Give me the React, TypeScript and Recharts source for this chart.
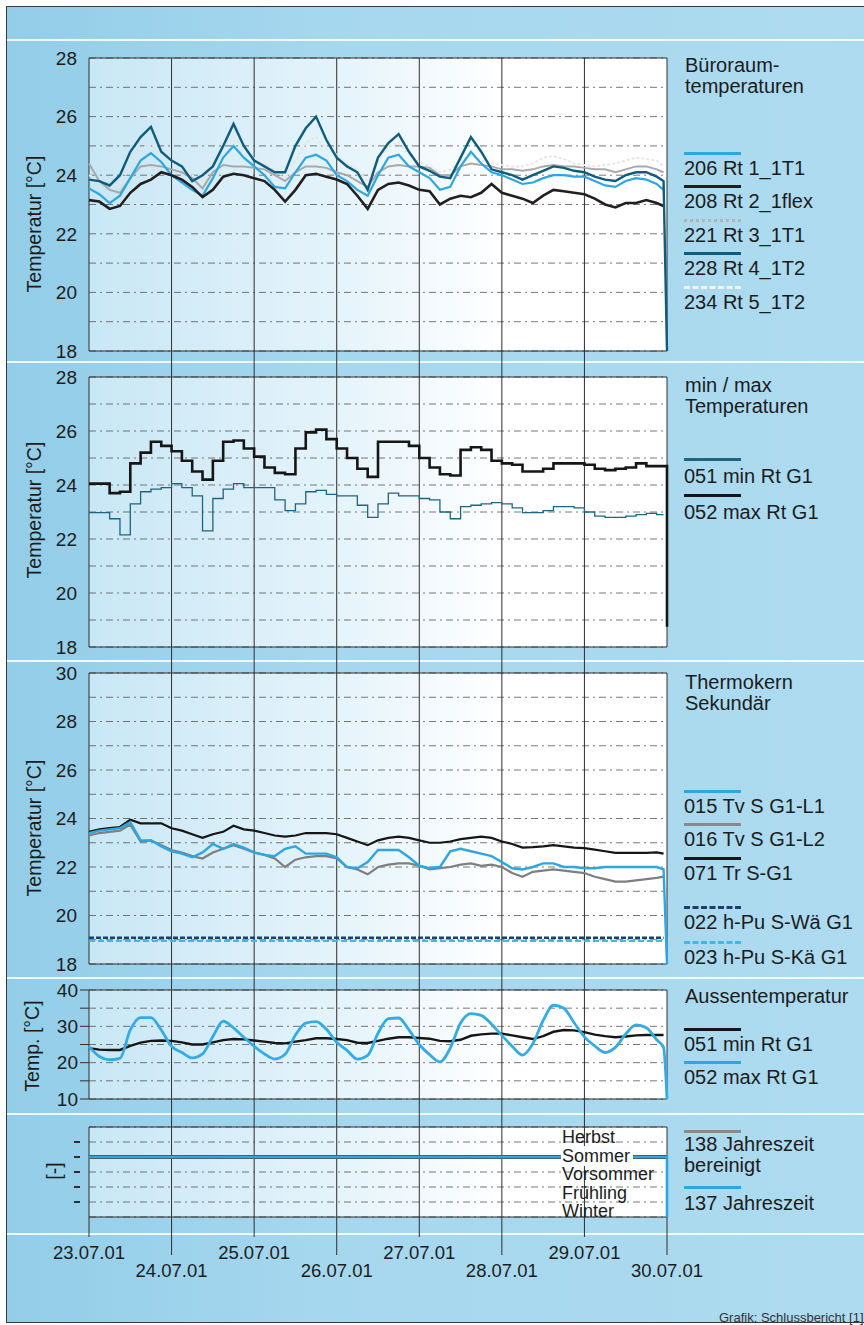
import React from 'react'
import { LineChart, Line, XAxis, YAxis, CartesianGrid, ReferenceLine } from 'recharts'

// time axis: hours since 23.07.01 00:00
const HOURS = [
  0, 3, 6, 9, 12, 15, 18, 21, 24, 27, 30, 33,
  36, 39, 42, 45, 48, 51, 54, 57, 60, 63, 66, 69,
  72, 75, 78, 81, 84, 87, 90, 93, 96, 99, 102, 105,
  108, 111, 114, 117, 120, 123, 126, 129, 132, 135, 138, 141,
  144, 147, 150, 153, 156, 159, 162, 165, 167, 168,
]
const DAY_TICKS = [0, 24, 48, 72, 96, 120, 144, 168]
const DAY_LABELS = ['23.07.01', '24.07.01', '25.07.01', '26.07.01', '27.07.01', '28.07.01', '29.07.01', '30.07.01']

// Büroraumtemperaturen
const RT1_206 = [
  23.55, 23.35, 23.05, 23.3, 23.9, 24.5, 24.75, 24.45, 24.0, 23.75, 23.5, 23.3,
  23.9, 24.6, 25.0, 24.6, 24.3, 24.0, 23.6, 23.55, 24.1, 24.6, 24.7, 24.5,
  24.0, 23.8, 23.5, 23.3, 24.0, 24.6, 24.7, 24.3, 24.1, 23.9, 23.5, 23.6,
  24.3, 24.8, 24.4, 24.1, 24.0, 23.85, 23.7, 23.75, 23.9, 24.0, 24.0, 23.95,
  23.95, 23.8, 23.65, 23.6, 23.8, 23.9, 23.85, 23.7, 23.5, null,
]
const RT2_208 = [
  23.15, 23.1, 22.85, 22.95, 23.4, 23.7, 23.85, 24.1, 24.0, 23.85, 23.6, 23.25,
  23.5, 23.95, 24.05, 24.0, 23.9, 23.8, 23.5, 23.1, 23.5, 24.0, 24.05, 23.95,
  23.85, 23.7, 23.3, 22.85, 23.5, 23.7, 23.75, 23.65, 23.5, 23.45, 23.0, 23.2,
  23.3, 23.25, 23.4, 23.7, 23.4, 23.3, 23.2, 23.05, 23.3, 23.5, 23.45, 23.4,
  23.35, 23.2, 23.0, 22.9, 23.05, 23.05, 23.15, 23.05, 22.95, null,
]
const RT3_221 = [
  24.4, 23.8, 23.5, 23.4, 23.9, 24.3, 24.35, 24.3, 24.2, 24.1, 23.9, 23.55,
  24.1, 24.35, 24.3, 24.3, 24.25, 24.2, 24.0, 23.8, 24.1, 24.3, 24.3, 24.25,
  24.1, 24.0, 23.8, 23.6, 24.1, 24.3, 24.35, 24.3, 24.3, 24.25, 24.0, 24.0,
  24.3, 24.4, 24.35, 24.3, 24.2, 24.2, 24.15, 24.2, 24.3, 24.35, 24.3, 24.3,
  24.25, 24.2, 24.2, 24.1, 24.2, 24.3, 24.3, 24.2, 24.1, null,
]
const RT4_228 = [
  23.85, 23.8, 23.65, 24.0, 24.8, 25.3, 25.65, 24.8, 24.5, 24.3, 23.8, 24.0,
  24.3, 25.0, 25.75, 25.0, 24.5, 24.3, 24.1, 24.1, 25.0, 25.6, 26.0, 25.2,
  24.6, 24.3, 24.1, 23.5, 24.6, 25.1, 25.4, 24.8, 24.3, 24.15, 23.95, 23.9,
  24.6, 25.3, 24.8, 24.2, 24.1, 24.0, 23.85, 24.0, 24.15, 24.3, 24.25, 24.15,
  24.1, 23.95, 23.85, 23.8, 24.0, 24.1, 24.1, 23.95, 23.8, 18,
]
const RT5_234 = [
  24.0, 23.9, 23.6, 23.7, 24.3, 24.9, 25.1, 24.7, 24.5, 24.3, 24.0, 23.7,
  24.4, 25.0, 25.3, 24.9, 24.6, 24.4, 24.2, 23.9, 24.5, 25.1, 25.3, 24.9,
  24.7, 24.4, 24.2, 23.8, 24.5, 25.0, 25.1, 24.7, 24.45, 24.3, 24.1, 24.2,
  24.5, 24.7, 24.5, 24.4, 24.35, 24.3, 24.3, 24.4, 24.6, 24.65, 24.55, 24.4,
  24.35, 24.3, 24.35, 24.4, 24.5, 24.6, 24.55, 24.5, 24.3, null,
]

// min / max Temperaturen
const MIN_051 = [
  22.98, 22.98, 22.75, 22.15, 23.3, 23.75, 23.85, 23.9, 24.05, 23.9, 23.6, 22.3,
  23.5, 23.85, 24.05, 23.9, 23.9, 23.9, 23.45, 23.05, 23.3, 23.75, 23.8, 23.65,
  23.6, 23.6, 23.25, 22.8, 23.3, 23.7, 23.6, 23.6, 23.5, 23.45, 23.0, 22.75,
  23.2, 23.25, 23.3, 23.35, 23.3, 23.15, 22.98, 22.98, 23.05, 23.2, 23.2, 23.15,
  23.0, 22.85, 22.8, 22.8, 22.85, 22.9, 22.95, 22.9, 22.9, null,
]
const MAX_052 = [
  24.05, 24.05, 23.7, 23.75, 24.8, 25.2, 25.6, 25.45, 25.25, 24.9, 24.5, 24.2,
  24.9, 25.6, 25.65, 25.35, 25.05, 24.65, 24.45, 24.4, 25.35, 25.95, 26.05, 25.7,
  25.35, 25.0, 24.6, 24.3, 25.6, 25.6, 25.6, 25.45, 25.0, 24.65, 24.4, 24.35,
  25.3, 25.4, 25.3, 24.9, 24.8, 24.75, 24.5, 24.5, 24.6, 24.8, 24.8, 24.8,
  24.75, 24.6, 24.55, 24.6, 24.65, 24.8, 24.7, 24.7, 24.7, 18.75,
]

// Thermokern Sekundär
const TV_015 = [
  23.4, 23.5, 23.55, 23.6, 23.85, 23.1, 23.1, 22.85, 22.65, 22.55, 22.4, 22.6,
  22.95, 22.75, 22.95, 22.8, 22.6, 22.5, 22.45, 22.75, 22.85, 22.55, 22.55, 22.55,
  22.4, 22.0, 21.95, 22.2, 22.7, 22.7, 22.7, 22.4, 22.05, 21.95, 22.0, 22.65,
  22.75, 22.65, 22.55, 22.45, 22.2, 21.95, 21.9, 22.0, 22.15, 22.15, 22.0, 22.0,
  21.95, 21.95, 22.0, 22.0, 22.0, 22.0, 22.0, 22.0, 21.9, 18,
]
const TV_016 = [
  23.3, 23.4, 23.45, 23.5, 23.75, 23.05, 23.1, 22.9, 22.7, 22.6, 22.45, 22.35,
  22.6, 22.75, 22.9, 22.75, 22.6, 22.5, 22.35, 22.0, 22.3, 22.4, 22.45, 22.45,
  22.35, 22.0, 21.9, 21.7, 22.0, 22.1, 22.15, 22.15, 22.05, 21.9, 21.95, 22.0,
  22.1, 22.15, 22.05, 22.1, 22.0, 21.75, 21.6, 21.8, 21.85, 21.9, 21.85, 21.8,
  21.75, 21.6, 21.5, 21.4, 21.4, 21.45, 21.5, 21.55, 21.6, null,
]
const TR_071 = [
  23.45, 23.55, 23.6, 23.65, 23.95, 23.8, 23.8, 23.8, 23.6, 23.5, 23.35, 23.2,
  23.35, 23.45, 23.7, 23.55, 23.5, 23.4, 23.3, 23.25, 23.3, 23.4, 23.4, 23.4,
  23.35, 23.2, 23.05, 22.9, 23.1, 23.2, 23.25, 23.2, 23.1, 23.0, 23.0, 23.05,
  23.15, 23.2, 23.25, 23.2, 23.05, 22.95, 22.8, 22.82, 22.85, 22.9, 22.85, 22.8,
  22.78, 22.72, 22.65, 22.58, 22.58, 22.58, 22.58, 22.6, 22.55, null,
]
const PUMP_HOURS = [0, 167]
const PU_022 = [19.08, 19.08]
const PU_023 = [18.95, 18.95]

// Aussentemperatur
const AUSSEN_051 = [
  24.0, 23.6, 23.5, 23.5, 24.6, 25.5, 26.0, 26.1, 26.0, 25.6, 25.0, 25.0,
  25.6, 26.2, 26.5, 26.4, 26.1, 25.8, 25.4, 25.3, 25.8, 26.2, 26.7, 26.7,
  26.5, 26.2, 25.5, 25.4, 26.0, 26.6, 27.0, 27.0, 26.8, 26.6, 26.0, 25.9,
  26.3, 27.4, 27.8, 28.0, 28.0, 27.5, 27.0, 26.5, 27.3, 28.5, 29.0, 28.9,
  28.4, 27.7, 27.3, 27.0, 27.2, 27.5, 27.6, 27.6, 27.6, null,
]
const AUSSEN_052 = [
  24.4, 21.7, 20.8, 21.2, 29.0, 32.4, 32.4, 29.0, 24.5, 22.8, 21.3, 22.4,
  27.2, 31.4, 29.6, 27.0, 24.5, 22.4, 21.0, 22.3, 27.6, 30.9, 31.3, 29.2,
  25.6, 23.4, 21.0, 22.0, 28.1, 32.1, 32.3, 29.0, 25.0, 22.2, 20.2, 24.0,
  30.9, 33.5, 33.0, 30.6, 27.5, 24.5, 22.1, 25.2, 31.6, 35.8, 35.0, 31.0,
  27.1, 24.6, 22.8, 24.2, 27.9, 30.4, 29.6, 26.3, 24.2, 10,
]

// Jahreszeit (1 = Winter ... 5 = Herbst)
const SEASONS = ['Winter', 'Frühling', 'Vorsommer', 'Sommer', 'Herbst']
const SEASON_LEVELS = [1, 2, 3, 4, 5]
const SEASON_HOURS = [0, 168, 168]
const JZ_137 = [4, 4, 0]
const JZ_138 = [4, 4, null]

const P1_TICKS = [18, 19, 20, 21, 22, 23, 24, 25, 26, 27, 28]
const P3_TICKS = [18, 19, 20, 21, 22, 23, 24, 25, 26, 27, 28, 29, 30]
const P4_TICKS = [10, 15, 20, 25, 30, 35, 40]

const rows = HOURS.map((h, i) => ({
  h,
  rt206: RT1_206[i], rt208: RT2_208[i], rt221: RT3_221[i], rt228: RT4_228[i], rt234: RT5_234[i],
  min051: MIN_051[i], max052: MAX_052[i],
  tv015: TV_015[i], tv016: TV_016[i], tr071: TR_071[i],
  a051: AUSSEN_051[i], a052: AUSSEN_052[i],
}))
const points = (hours: number[], vals: (number | null)[]) => hours.map((h, i) => ({ h, v: vals[i] }))

const FONT = '"Liberation Sans", Arial, Helvetica, sans-serif'
const W = 864
const H = 1325
const PLOT_L = 89
const PLOT_R = 667
const AXIS_W = 60
const INK = '#1c1c1c'
const RULE = '#2e2e2e'
const BLUE = '#2ea6df'

type Series = {
  key: string
  color: string
  width: number
  dash?: string
  curve?: 'linear' | 'stepAfter' | 'monotone'
  pts?: { h: number; v: number | null }[]
}

function DashTick(p: any) {
  return <line x1={p.x - 7} x2={p.x - 1} y1={p.y} y2={p.y} stroke={RULE} strokeWidth={2} />
}

function Panel({ id, top, bottom, domain, ticks, every, mode, series }: {
  id: string; top: number; bottom: number; domain: [number, number]; ticks: number[]
  every: number; mode: 'text' | 'line' | 'dash'; series: Series[]
}) {
  const pad = 16
  const tickFont = { fill: INK, fontSize: 19, fontFamily: FONT }
  const yProps: any =
    mode === 'text'
      ? { tickLine: false, tickSize: 0, tickMargin: 12, tick: tickFont }
      : mode === 'line'
      ? { tickLine: { stroke: RULE }, tickSize: 9, tickMargin: 2, tick: tickFont }
      : { tickLine: false, tick: (p: any) => <DashTick {...p} /> }
  return (
    <div style={{ position: 'absolute', left: 0, top: top - pad }}>
      <LineChart
        width={W}
        height={bottom - top + 2 * pad}
        data={rows}
        margin={{ top: pad, bottom: pad, left: PLOT_L - AXIS_W, right: W - PLOT_R }}
      >
        <defs>
          <linearGradient id={`bg-${id}`} x1="0" y1="0" x2="1" y2="0">
            <stop offset="0" stopColor="#c8e7f5" />
            <stop offset="0.45" stopColor="#e6f4fb" />
            <stop offset="0.72" stopColor="#ffffff" />
            <stop offset="1" stopColor="#ffffff" />
          </linearGradient>
        </defs>
        <CartesianGrid
          vertical={false}
          stroke="#555"
          strokeWidth={0.8}
          strokeDasharray="7 4 2 4"
          fill={`url(#bg-${id})`}
          fillOpacity={1}
        />
        <XAxis
          type="number"
          dataKey="h"
          domain={[0, 168]}
          ticks={DAY_TICKS}
          tick={false}
          axisLine={false}
          tickLine={false}
          height={0}
        />
        <YAxis
          type="number"
          domain={domain}
          ticks={ticks}
          interval={0}
          width={AXIS_W}
          axisLine={false}
          tickFormatter={(v: number) => (v % every === 0 ? String(v) : '')}
          {...yProps}
        />
        {DAY_TICKS.map((d) => (
          <ReferenceLine key={`d${d}`} x={d} stroke={RULE} strokeWidth={1} />
        ))}
        <ReferenceLine y={domain[0]} stroke={RULE} strokeWidth={1.2} />
        <ReferenceLine y={domain[1]} stroke={RULE} strokeWidth={1.2} />
        {series.map((s) => (
          <Line
            key={s.key}
            data={s.pts}
            dataKey={s.pts ? 'v' : s.key}
            type={s.curve ?? 'linear'}
            stroke={s.color}
            strokeWidth={s.width}
            strokeDasharray={s.dash}
            dot={false}
            activeDot={false}
            isAnimationActive={false}
          />
        ))}
      </LineChart>
    </div>
  )
}

function DateTick(p: any) {
  const i = DAY_TICKS.indexOf(p.payload.value)
  const low = i % 2 === 1
  return (
    <g>
      <line x1={p.x} x2={p.x} y1={1217} y2={1217 + (low ? 38 : 20)} stroke={RULE} strokeWidth={1} />
      <text
        x={p.x}
        y={1217 + (low ? 53 : 35)}
        textAnchor="middle"
        dominantBaseline="central"
        fontSize={18.5}
        fontFamily={FONT}
        fill={INK}
      >
        {DAY_LABELS[i]}
      </text>
    </g>
  )
}

function AxisTitle({ x, y, text }: { x: number; y: number; text: string }) {
  return (
    <div
      style={{
        position: 'absolute', left: x, top: y, transform: 'translate(-50%,-50%) rotate(-90deg)',
        fontSize: 19.5, lineHeight: 1, whiteSpace: 'nowrap', color: INK,
      }}
    >
      {text}
    </div>
  )
}

function Title({ top, lines }: { top: number; lines: string[] }) {
  return (
    <div style={{ position: 'absolute', left: 685, top, fontSize: 20, lineHeight: '21px', color: INK, whiteSpace: 'nowrap' }}>
      {lines.map((l) => <div key={l}>{l}</div>)}
    </div>
  )
}

function Key({ y, label, color, line = 'solid', gap = 3 }: { y: number; label: string; color: string; line?: string; gap?: number }) {
  return (
    <>
      <div style={{ position: 'absolute', left: 684, top: y - 1.5, width: 57, borderTop: `3px ${line} ${color}` }} />
      <div style={{ position: 'absolute', left: 684, top: y + gap, fontSize: 20, lineHeight: '24px', color: INK, whiteSpace: 'nowrap' }}>
        {label}
      </div>
    </>
  )
}

const P1_SERIES: Series[] = [
  { key: 'rt234', color: '#e6e6e6', width: 2, dash: '3 2' },
  { key: 'rt221', color: '#a9a9a9', width: 2 },
  { key: 'rt206', color: BLUE, width: 2.2 },
  { key: 'rt208', color: '#231f20', width: 2.6 },
  { key: 'rt228', color: '#0f5d7d', width: 2.4 },
]
const P2_SERIES: Series[] = [
  { key: 'min051', color: '#1d6580', width: 1.3, curve: 'stepAfter' },
  { key: 'max052', color: '#161616', width: 2.6, curve: 'stepAfter' },
]
const P3_SERIES: Series[] = [
  { key: 'pu022', color: '#1d3f6b', width: 2.6, dash: '5 2', pts: points(PUMP_HOURS, PU_022) },
  { key: 'pu023', color: '#45b5ea', width: 2.2, dash: '6 3', pts: points(PUMP_HOURS, PU_023) },
  { key: 'tv016', color: '#7f7f7f', width: 2.2 },
  { key: 'tr071', color: '#161616', width: 2.2 },
  { key: 'tv015', color: BLUE, width: 2.4 },
]
const P4_SERIES: Series[] = [
  { key: 'a051', color: '#161616', width: 2.4 },
  { key: 'a052', color: '#33ace3', width: 2.8, curve: 'monotone' },
]
const P5_SERIES: Series[] = [
  { key: 'jz138', color: '#4d4d4d', width: 4, pts: points(SEASON_HOURS, JZ_138) },
  { key: 'jz137', color: BLUE, width: 2.6, pts: points(SEASON_HOURS, JZ_137) },
]

const SEPARATORS = [39, 361, 660, 977, 1113, 1233]

export default function App() {
  return (
    <div
      style={{
        position: 'absolute', left: 0, top: 0, width: W, height: H, overflow: 'hidden',
        background: '#fff', fontFamily: FONT,
      }}
    >
      <div
        style={{
          position: 'absolute', left: 6, top: 6, width: 880, height: 1315,
          border: '1px solid #3a3a3a',
          background: 'linear-gradient(90deg, #93cde8 0%, #a5d7ee 35%, #aedbf0 100%)',
        }}
      />
      {SEPARATORS.map((y) => (
        <div key={y} style={{ position: 'absolute', left: 7, width: W, top: y, height: 2, background: 'rgba(255,255,255,0.85)' }} />
      ))}

      {/* day rules running through all panels and the date axis */}
      <div style={{ position: 'absolute', left: 0, top: 0 }}>
        <LineChart
          width={W}
          height={H}
          data={rows}
          margin={{ top: 58, left: PLOT_L, right: W - PLOT_R, bottom: H - 1217 - 60 }}
        >
          <XAxis
            type="number"
            dataKey="h"
            domain={[0, 168]}
            ticks={DAY_TICKS}
            interval={0}
            height={60}
            axisLine={false}
            tickLine={false}
            tick={(p: any) => <DateTick {...p} />}
          />
          <YAxis hide type="number" domain={[18, 28]} />
          {DAY_TICKS.slice(1, -1).map((d) => (
            <ReferenceLine key={d} x={d} stroke={RULE} strokeWidth={1} />
          ))}
          <Line dataKey="rt206" stroke="none" dot={false} activeDot={false} isAnimationActive={false} />
        </LineChart>
      </div>

      <Panel id="p1" top={58} bottom={351} domain={[18, 28]} ticks={P1_TICKS} every={2} mode="text" series={P1_SERIES} />
      <Panel id="p2" top={377} bottom={647} domain={[18, 28]} ticks={P1_TICKS} every={2} mode="text" series={P2_SERIES} />
      <Panel id="p3" top={673} bottom={964} domain={[18, 30]} ticks={P3_TICKS} every={2} mode="text" series={P3_SERIES} />
      <Panel id="p4" top={990} bottom={1099} domain={[10, 40]} ticks={P4_TICKS} every={10} mode="line" series={P4_SERIES} />
      <Panel id="p5" top={1127} bottom={1217} domain={[0, 6]} ticks={SEASON_LEVELS} every={1} mode="dash" series={P5_SERIES} />

      <AxisTitle x={35} y={224} text="Temperatur [°C]" />
      <AxisTitle x={35} y={510} text="Temperatur [°C]" />
      <AxisTitle x={35} y={828} text="Temperatur [°C]" />
      <AxisTitle x={33} y={1046} text="Temp. [°C]" />
      <AxisTitle x={55} y={1171} text="[-]" />

      {/* season names inside the last panel */}
      <div style={{ position: 'absolute', left: 561, top: 1128, fontSize: 18, lineHeight: '18.5px', color: INK }}>
        {[...SEASONS].reverse().map((s) => (
          <div key={s}>
            <span style={{ background: s === 'Sommer' ? '#fbfdfe' : 'transparent', padding: '0 3px 0 1px' }}>{s}</span>
          </div>
        ))}
      </div>

      <Title top={55} lines={['Büroraum-', 'temperaturen']} />
      <Key y={153} label="206 Rt 1_1T1" color={BLUE} />
      <Key y={186} label="208 Rt 2_1flex" color="#1e1e1e" />
      <Key y={220} label="221 Rt 3_1T1" color="#b3b3b3" line="dotted" />
      <Key y={253} label="228 Rt 4_1T2" color="#0f5d7d" />
      <Key y={287} label="234 Rt 5_1T2" color="#f2f2f2" line="dashed" />

      <Title top={375} lines={['min / max', 'Temperaturen']} />
      <Key y={459} label="051 min Rt G1" color="#1d6580" gap={5} />
      <Key y={495} label="052 max Rt G1" color="#161616" gap={5} />

      <Title top={672} lines={['Thermokern', 'Sekundär']} />
      <Key y={791} label="015 Tv S G1-L1" color={BLUE} />
      <Key y={824} label="016 Tv S G1-L2" color="#8a8a8a" />
      <Key y={858} label="071 Tr S-G1" color="#161616" />
      <Key y={907} label="022 h-Pu S-Wä G1" color="#1d3f6b" line="dashed" />
      <Key y={942} label="023 h-Pu S-Kä G1" color="#45b5ea" line="dashed" />

      <Title top={986} lines={['Aussentemperatur']} />
      <Key y={1029} label="051 min Rt G1" color="#161616" />
      <Key y={1062} label="052 max Rt G1" color={BLUE} />

      <div style={{ position: 'absolute', left: 684, top: 1129.5, width: 57, borderTop: '3px solid #8a8a8a' }} />
      <div style={{ position: 'absolute', left: 684, top: 1134, fontSize: 20, lineHeight: '21px', color: INK, whiteSpace: 'nowrap' }}>
        <div>138 Jahreszeit</div>
        <div>bereinigt</div>
      </div>
      <Key y={1187} label="137 Jahreszeit" color={BLUE} gap={4} />

      <div style={{ position: 'absolute', left: 719, top: 1310, fontSize: 13, color: '#333', whiteSpace: 'nowrap' }}>
        Grafik: Schlussbericht [1]
      </div>
    </div>
  )
}
